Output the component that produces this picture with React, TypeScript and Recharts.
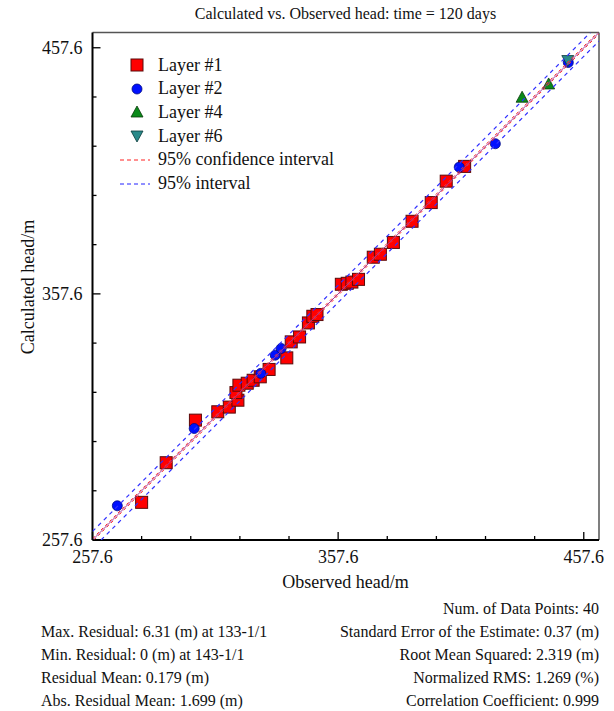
import React from 'react'
import { ScatterChart, Scatter, XAxis, YAxis, ReferenceLine } from 'recharts'

const layer1 = [
  { obs: 277.6, calc: 272.9 }, { obs: 287.6, calc: 289.0 }, { obs: 299.5, calc: 306.3 },
  { obs: 308.6, calc: 309.7 }, { obs: 313.3, calc: 311.6 }, { obs: 316.8, calc: 314.4 },
  { obs: 316.0, calc: 317.5 }, { obs: 317.2, calc: 320.5 }, { obs: 320.6, calc: 321.3 },
  { obs: 323.0, calc: 322.5 }, { obs: 325.9, calc: 323.9 }, { obs: 329.5, calc: 326.9 },
  { obs: 336.7, calc: 331.6 }, { obs: 338.5, calc: 338.1 }, { obs: 341.9, calc: 340.1 },
  { obs: 345.5, calc: 345.8 }, { obs: 347.3, calc: 348.5 }, { obs: 349.0, calc: 349.2 },
  { obs: 358.9, calc: 361.5 }, { obs: 361.3, calc: 361.9 }, { obs: 363.2, calc: 362.4 },
  { obs: 365.9, calc: 363.5 }, { obs: 371.9, calc: 372.5 }, { obs: 374.8, calc: 373.7 },
  { obs: 380.1, calc: 378.5 }, { obs: 387.7, calc: 387.1 }, { obs: 395.5, calc: 394.7 },
  { obs: 401.6, calc: 403.4 }, { obs: 409.1, calc: 409.4 },
]
const layer2 = [
  { obs: 267.7, calc: 271.5 }, { obs: 299.0, calc: 302.9 }, { obs: 326.1, calc: 325.3 },
  { obs: 332.0, calc: 332.7 }, { obs: 334.4, calc: 335.4 }, { obs: 406.9, calc: 409.1 },
  { obs: 421.6, calc: 418.6 }, { obs: 451.3, calc: 451.6 },
]
const layer4 = [{ obs: 432.5, calc: 437.5 }, { obs: 443.3, calc: 442.9 }]
const layer6 = [{ obs: 451.1, calc: 452.4 }]

const axisMin = 257.6
const axisMax = 463.8
const ticks = [257.6, 277.6, 297.6, 317.6, 337.6, 357.6, 377.6, 397.6, 417.6, 437.6, 457.6]
const majorTicks = [257.6, 357.6, 457.6]
const confHalf = 0.6
const predHalf = 3.5

const leftStats = [
  'Max. Residual: 6.31 (m) at 133-1/1',
  'Min. Residual: 0 (m) at 143-1/1',
  'Residual Mean: 0.179 (m)',
  'Abs. Residual Mean: 1.699 (m)',
]
const rightStats = [
  'Num. of Data Points: 40',
  'Standard Error of the Estimate: 0.37 (m)',
  'Root Mean Squared: 2.319 (m)',
  'Normalized RMS: 1.269 (%)',
  'Correlation Coefficient: 0.999',
]

// 1:1 line shifted by d, clipped to the square plot
const lineFrom = (d: number) =>
  d >= 0
    ? [{ obs: axisMin, calc: axisMin + d }, { obs: axisMax - d, calc: axisMax }]
    : [{ obs: axisMin - d, calc: axisMin }, { obs: axisMax, calc: axisMax + d }]

const FONT = '"Liberation Serif", "Times New Roman", serif'

const XTick = (props: any) => {
  const { x, y, payload } = props
  const major = majorTicks.includes(payload.value)
  return (
    <g>
      <line x1={x} x2={x} y1={y} y2={y - (major ? 8 : 4)} stroke="#000" strokeWidth={1.3} />
      {major && (
        <text x={x} y={y + 17} textAnchor="middle" dominantBaseline="central" fontSize={18} fontFamily={FONT} fill="#111">
          {payload.value.toFixed(1)}
        </text>
      )}
    </g>
  )
}

const YTick = (props: any) => {
  const { x, y, payload } = props
  const major = majorTicks.includes(payload.value)
  return (
    <g>
      <line x1={x} x2={x + (major ? 8 : 4)} y1={y} y2={y} stroke="#000" strokeWidth={1.3} />
      {major && (
        <text x={x - 10} y={y} textAnchor="end" dominantBaseline="central" fontSize={18} fontFamily={FONT} fill="#111">
          {payload.value.toFixed(1)}
        </text>
      )}
    </g>
  )
}

const Square = (p: any) => (
  <rect x={p.cx - 6} y={p.cy - 6} width={12} height={12} fill="#ff0000" stroke="#5a0a0a" strokeWidth={1} />
)
const Dot = (p: any) => <circle cx={p.cx} cy={p.cy} r={5} fill="#0010ff" stroke="#000a80" strokeWidth={0.8} />
const TriUp = (p: any) => (
  <polygon points={`${p.cx},${p.cy - 6} ${p.cx + 6},${p.cy + 5} ${p.cx - 6},${p.cy + 5}`} fill="#0a8a1a" stroke="#0a3a0a" strokeWidth={0.8} />
)
const TriDown = (p: any) => (
  <polygon points={`${p.cx},${p.cy + 6} ${p.cx + 6},${p.cy - 5} ${p.cx - 6},${p.cy - 5}`} fill="#2a8a8a" stroke="#0a3a3a" strokeWidth={0.8} />
)
const Nothing = () => <g />

const legendItems = [
  { label: 'Layer #1', icon: <rect x={4} y={4} width={12} height={12} fill="#ff0000" stroke="#5a0a0a" /> },
  { label: 'Layer #2', icon: <circle cx={10} cy={10} r={5} fill="#0010ff" stroke="#000a80" strokeWidth={0.8} /> },
  { label: 'Layer #4', icon: <polygon points="10,4 16,15 4,15" fill="#0a8a1a" stroke="#0a3a0a" strokeWidth={0.8} /> },
  { label: 'Layer #6', icon: <polygon points="10,16 16,5 4,5" fill="#2a8a8a" stroke="#0a3a3a" strokeWidth={0.8} /> },
  { label: '95% confidence interval', icon: <line x1={-7} x2={23} y1={10} y2={10} stroke="#ff2020" strokeDasharray="4 3" /> },
  { label: '95% interval', icon: <line x1={-7} x2={23} y1={10} y2={10} stroke="#2020ff" strokeDasharray="4 3" /> },
]

export default function App() {
  return (
    <div style={{ position: 'absolute', left: 0, top: 0, width: 614, height: 711, background: '#fff', fontFamily: FONT, color: '#111' }}>
      <ScatterChart width={614} height={711} margin={{ top: 32.5, right: 15, bottom: 131, left: 32.5 }}>
        <XAxis
          type="number"
          dataKey="obs"
          domain={[axisMin, axisMax]}
          allowDataOverflow
          ticks={ticks}
          interval={0}
          tick={<XTick />}
          tickLine={false}
          tickSize={0}
          tickMargin={0}
          height={40}
          axisLine={{ stroke: '#000', strokeWidth: 2 }}
        />
        <YAxis
          type="number"
          dataKey="calc"
          domain={[axisMin, axisMax]}
          allowDataOverflow
          ticks={ticks}
          interval={0}
          tick={<YTick />}
          tickLine={false}
          tickSize={0}
          tickMargin={0}
          width={60}
          axisLine={{ stroke: '#000', strokeWidth: 2 }}
        />
        <ReferenceLine y={axisMax} stroke="#555" strokeWidth={1.5} />
        <ReferenceLine x={axisMax} stroke="#555" strokeWidth={1.5} />
        <Scatter name="Layer #1" data={layer1} shape={<Square />} isAnimationActive={false} />
        <Scatter name="Layer #2" data={layer2} shape={<Dot />} isAnimationActive={false} />
        <Scatter name="Layer #4" data={layer4} shape={<TriUp />} isAnimationActive={false} />
        <Scatter name="Layer #6" data={layer6} shape={<TriDown />} isAnimationActive={false} />
        <Scatter data={lineFrom(predHalf)} line={{ stroke: '#3030ff', strokeWidth: 1.2, strokeDasharray: '4 4' }} shape={<Nothing />} isAnimationActive={false} />
        <Scatter data={lineFrom(-predHalf)} line={{ stroke: '#3030ff', strokeWidth: 1.2, strokeDasharray: '4 4' }} shape={<Nothing />} isAnimationActive={false} />
        <Scatter data={lineFrom(confHalf)} line={{ stroke: '#ff3030', strokeWidth: 1, strokeDasharray: '3 3' }} shape={<Nothing />} isAnimationActive={false} />
        <Scatter data={lineFrom(-confHalf)} line={{ stroke: '#ff3030', strokeWidth: 1, strokeDasharray: '3 3' }} shape={<Nothing />} isAnimationActive={false} />
        <Scatter data={lineFrom(0)} line={{ stroke: '#a03c9c', strokeWidth: 1 }} shape={<Nothing />} isAnimationActive={false} />
      </ScatterChart>

      <div style={{ position: 'absolute', left: 92, width: 507, top: 5, textAlign: 'center', fontSize: 16 }}>
        Calculated vs. Observed head: time = 120 days
      </div>
      <div style={{ position: 'absolute', left: 92, width: 507, top: 572, textAlign: 'center', fontSize: 18 }}>
        Observed head/m
      </div>
      <div
        style={{
          position: 'absolute', left: 28, top: 287, width: 300, marginLeft: -150, marginTop: -11,
          textAlign: 'center', fontSize: 18, transform: 'rotate(-90deg)', lineHeight: '22px',
        }}
      >
        Calculated head/m
      </div>

      {legendItems.map((it, i) => (
        <div key={it.label} style={{ position: 'absolute', left: 127, top: 54 + i * 23.7, height: 22, display: 'flex', alignItems: 'center', fontSize: 18 }}>
          <svg width={20} height={20} style={{ overflow: 'visible', marginRight: 11 }}>{it.icon}</svg>
          <span>{it.label}</span>
        </div>
      ))}

      {leftStats.map((s, i) => (
        <div key={s} style={{ position: 'absolute', left: 41, top: 621 + i * 23, fontSize: 16, lineHeight: '22px' }}>{s}</div>
      ))}
      {rightStats.map((s, i) => (
        <div key={s} style={{ position: 'absolute', right: 15, top: 598 + i * 23, fontSize: 16, lineHeight: '22px', textAlign: 'right' }}>{s}</div>
      ))}
    </div>
  )
}
